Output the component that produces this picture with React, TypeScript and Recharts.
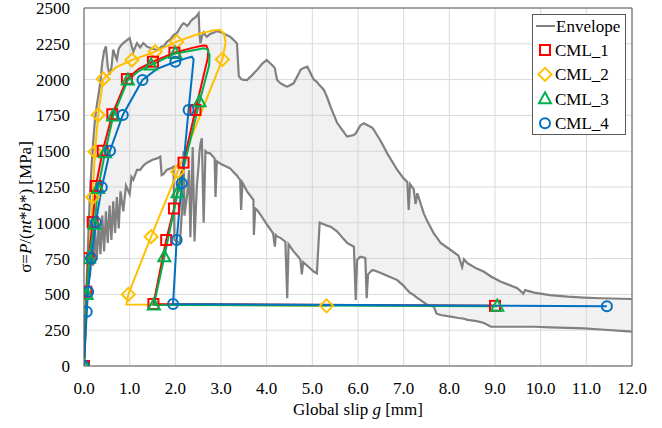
import React from "react";
import {
  ComposedChart,
  XAxis,
  YAxis,
  CartesianGrid,
  Line,
  Area,
  Scatter,
  Legend,
  ReferenceLine,
} from "recharts";

const xTicks = [0, 1, 2, 3, 4, 5, 6, 7, 8, 9, 10, 11, 12];
const yTicks = [0, 250, 500, 750, 1000, 1250, 1500, 1750, 2000, 2250, 2500];

// [slip g (mm), lower envelope (MPa), upper envelope (MPa)]
const envelope: [number, number, number][] = [
  [0, 0, 0], [0.04, 300, 380], [0.08, 620, 780], [0.1, 700, 950], [0.13, 620, 1200],
  [0.17, 860, 1420], [0.2, 700, 1560], [0.24, 950, 1720], [0.28, 740, 1820], [0.32, 1000, 1900],
  [0.36, 780, 1990], [0.4, 1050, 2120], [0.44, 800, 2200], [0.48, 1080, 2232], [0.52, 860, 2090],
  [0.56, 1120, 2035], [0.6, 880, 2080], [0.64, 1150, 2210], [0.68, 930, 2170], [0.72, 1180, 2140],
  [0.76, 960, 2215], [0.8, 1220, 2235], [0.86, 1080, 2255], [0.92, 1260, 2270], [1.0, 1200, 2290],
  [1.04, 1320, 2240], [1.08, 1300, 2195], [1.16, 1369, 2255], [1.23, 1369, 2225], [1.3, 1400, 2255],
  [1.38, 1420, 2230], [1.5, 1440, 2215], [1.6, 1450, 2207], [1.67, 1462, 2222], [1.7, 1333, 2232],
  [1.74, 1340, 2230], [1.81, 1369, 2262], [1.9, 1380, 2285], [1.96, 1392, 2310], [1.98, 880, 2315],
  [2.03, 870, 2323], [2.1, 860, 2360], [2.15, 1100, 2385], [2.18, 1500, 2393], [2.2, 1050, 2390],
  [2.26, 1200, 2375], [2.3, 1369, 2390], [2.33, 900, 2405], [2.38, 1530, 2422], [2.42, 870, 2430],
  [2.47, 1250, 2445], [2.51, 1400, 2463], [2.53, 1500, 2310], [2.55, 1550, 2253], [2.58, 1590, 2300],
  [2.62, 1000, 2330], [2.66, 1500, 2310], [2.69, 1490, 2300], [2.76, 1485, 2318], [2.86, 1450, 2330],
  [2.88, 1180, 2335], [2.91, 1430, 2338], [3.0, 1410, 2332], [3.1, 1395, 2315], [3.2, 1380, 2300],
  [3.3, 1345, 2270], [3.35, 1330, 2253], [3.39, 1310, 2025], [3.42, 1300, 2012], [3.44, 1090, 2005],
  [3.47, 1280, 2000], [3.57, 1220, 1997], [3.71, 1160, 2040], [3.72, 915, 2045], [3.75, 1100, 2055],
  [3.79, 1090, 2067], [3.9, 1040, 2110], [4.0, 990, 2137], [4.14, 927, 2095], [4.18, 833, 2080],
  [4.2, 915, 2040], [4.23, 905, 1997], [4.3, 895, 1975], [4.41, 868, 1955], [4.45, 473, 1951],
  [4.48, 850, 1955], [4.59, 800, 1974], [4.7, 760, 2040], [4.74, 740, 2067], [4.77, 640, 2075],
  [4.8, 725, 2080], [4.89, 700, 2090], [5.03, 660, 2000], [5.1, 647, 1985], [5.16, 1001, 1960],
  [5.25, 990, 1930], [5.32, 980, 1880], [5.4, 973, 1810], [5.54, 940, 1700], [5.65, 900, 1650],
  [5.76, 860, 1602], [5.91, 833, 1613], [5.95, 461, 1625], [5.98, 740, 1640], [6.05, 763, 1680],
  [6.13, 758, 1695], [6.16, 754, 1690], [6.19, 473, 1685], [6.22, 640, 1680], [6.31, 670, 1665],
  [6.35, 668, 1648], [6.5, 650, 1570], [6.64, 630, 1485], [6.86, 600, 1369], [7.0, 560, 1310],
  [7.08, 530, 1285], [7.11, 520, 1089], [7.14, 510, 1270], [7.22, 496, 1235], [7.26, 485, 1130],
  [7.3, 475, 1206], [7.44, 445, 1066], [7.52, 426, 1010], [7.66, 414, 926], [7.72, 365, 900],
  [7.81, 356, 860], [8.03, 345, 810], [8.2, 335, 770], [8.28, 332, 690], [8.32, 330, 745],
  [8.4, 322, 717], [8.6, 313, 680], [8.76, 300, 658], [8.91, 274, 625], [9.13, 274, 589],
  [9.49, 274, 543], [9.62, 274, 505], [9.66, 274, 530], [9.86, 274, 512], [10.2, 270, 495],
  [10.59, 266, 484], [10.95, 263, 478], [11.32, 255, 473], [12.0, 240, 468],
];

// CML_1
const cml1Line: [number, number][] = [
  [0, 0], [0.05, 519], [0.1, 753], [0.19, 1005], [0.26, 1257], [0.41, 1503], [0.62, 1758],
  [0.94, 2004], [1.2, 2075], [1.51, 2125], [1.98, 2188], [2.35, 2220], [2.6, 2238], [2.68, 2236],
  [2.72, 2205], [2.71, 2150], [2.44, 1788], [2.18, 1420], [1.97, 1100], [1.8, 880], [1.52, 433], [9.0, 420],
];
const cml1Marks: [number, number][] = [
  [0, 0], [0.05, 519], [0.1, 753], [0.19, 1005], [0.26, 1257], [0.41, 1503], [0.62, 1758],
  [0.94, 2004], [1.51, 2125], [1.98, 2188], [2.44, 1788], [2.18, 1420], [1.97, 1100], [1.8, 880],
  [1.52, 433], [9.0, 420],
];

// CML_2
const cml2Line: [number, number][] = [
  [0, 0], [0.08, 550], [0.19, 1178], [0.24, 1497], [0.31, 1753], [0.42, 2004], [0.7, 2085],
  [1.05, 2137], [1.56, 2195], [2.03, 2265], [2.5, 2318], [2.85, 2345], [2.98, 2348], [3.07, 2320],
  [3.1, 2260], [3.03, 2141], [2.05, 1357], [1.47, 903], [0.97, 500], [0.93, 430], [5.31, 420],
];
const cml2Marks: [number, number][] = [
  [0, 0], [0.19, 1178], [0.24, 1497], [0.31, 1753], [0.42, 2004], [1.05, 2137], [1.56, 2195],
  [2.03, 2265], [3.03, 2141], [2.05, 1357], [1.47, 903], [0.97, 500], [5.31, 420],
];

// CML_3
const cml3Line: [number, number][] = [
  [0, 0], [0.06, 500], [0.11, 752], [0.23, 990], [0.31, 1240], [0.46, 1489], [0.64, 1746],
  [0.96, 1997], [1.2, 2060], [1.47, 2102], [2.0, 2183], [2.4, 2205], [2.62, 2218], [2.7, 2212],
  [2.75, 2170], [2.74, 2100], [2.53, 1845], [2.05, 1210], [1.76, 763], [1.53, 426], [9.05, 418],
];
const cml3Marks: [number, number][] = [
  [0, 0], [0.06, 500], [0.11, 752], [0.23, 990], [0.31, 1240], [0.46, 1489], [0.64, 1746],
  [0.96, 1997], [1.47, 2102], [2.0, 2183], [2.53, 1845], [2.05, 1210], [1.76, 763], [1.53, 426],
  [9.05, 418],
];

// CML_4
const cml4Line: [number, number][] = [
  [0, 0], [0.06, 379], [0.09, 519], [0.16, 752], [0.26, 1003], [0.39, 1248], [0.57, 1503],
  [0.85, 1753], [1.28, 1997], [1.6, 2075], [2.0, 2125], [2.25, 2150], [2.36, 2160], [2.4, 2140],
  [2.29, 1788], [2.14, 1276], [2.03, 880], [1.95, 433], [11.45, 418],
];
const cml4Marks: [number, number][] = [
  [0, 0], [0.06, 379], [0.09, 519], [0.16, 752], [0.26, 1003], [0.39, 1248], [0.57, 1503],
  [0.85, 1753], [1.28, 1997], [2.0, 2125], [2.29, 1788], [2.14, 1276], [2.03, 880], [1.95, 433],
  [11.45, 418],
];

const FONT = "Liberation Serif, Times New Roman, DejaVu Serif, serif";
const FS = 17;
const C_ENV = "#808080";
const C1 = "#ff0000";
const C2 = "#ffc000";
const C3 = "#00b050";
const C4 = "#0070c0";
const TXT = { fontFamily: FONT, fontSize: FS };

const toXY = (arr: [number, number][]) => arr.map(([x, y]) => ({ x, y }));
const envRows = envelope.map(([x, lo, hi]) => ({ x, lo, hi, r: [lo, hi] }));

type MP = { cx: number; cy: number; color: string };
const SquareM = ({ cx, cy, color }: MP) => (
  <rect x={cx - 5} y={cy - 5} width={10} height={10} fill="none" stroke={color} strokeWidth={2} />
);
const DiamondM = ({ cx, cy, color }: MP) => (
  <polygon
    points={`${cx},${cy - 6.5} ${cx + 6.5},${cy} ${cx},${cy + 6.5} ${cx - 6.5},${cy}`}
    fill="none"
    stroke={color}
    strokeWidth={2}
  />
);
const TriangleM = ({ cx, cy, color }: MP) => (
  <polygon
    points={`${cx},${cy - 6.5} ${cx + 6},${cy + 4.5} ${cx - 6},${cy + 4.5}`}
    fill="none"
    stroke={color}
    strokeWidth={2}
  />
);
const CircleM = ({ cx, cy, color }: MP) => (
  <circle cx={cx} cy={cy} r={5} fill="none" stroke={color} strokeWidth={2} />
);

const LegendBox = () => {
  const rows = [
    { name: "CML_1", M: SquareM, c: C1 },
    { name: "CML_2", M: DiamondM, c: C2 },
    { name: "CML_3", M: TriangleM, c: C3 },
    { name: "CML_4", M: CircleM, c: C4 },
  ];
  return (
    <svg width={95} height={122} style={{ display: "block" }}>
      <rect x={0.5} y={0.5} width={93} height={120} fill="#fff" stroke="#595959" strokeWidth={1} />
      <line x1={4} x2={23} y1={12} y2={12} stroke={C_ENV} strokeWidth={2} />
      <text x={24} y={12} dy="0.35em" style={TXT} fill="#000">
        Envelope
      </text>
      {rows.map((r, i) => {
        const cy = 36 + i * 24.4;
        const M = r.M;
        return (
          <g key={r.name}>
            <M cx={13} cy={cy} color={r.c} />
            <text x={23} y={cy} dy="0.35em" style={TXT} fill="#000">
              {r.name}
            </text>
          </g>
        );
      })}
    </svg>
  );
};

const XTitle = () => (
  <text x={358} y={415} textAnchor="middle" style={TXT} fill="#000">
    Global slip <tspan fontStyle="italic">g</tspan> [mm]
  </text>
);

const YTitle = () => (
  <text x={31} y={207} transform="rotate(-90, 31, 207)" textAnchor="middle" style={TXT} fill="#000">
    σ=<tspan fontStyle="italic">P</tspan>/(<tspan fontStyle="italic">nt</tspan>*
    <tspan fontStyle="italic">b</tspan>*) [MPa]
  </text>
);

export default function App() {
  const tick = { fontSize: FS, fill: "#000", fontFamily: FONT, style: TXT };
  return (
    <div
      style={{
        position: "absolute",
        left: 0,
        top: 0,
        width: 662,
        height: 428,
        background: "#fff",
        fontFamily: FONT,
      }}
    >
      <ComposedChart width={662} height={428} margin={{ top: 8, right: 30, bottom: 0, left: 0 }}>
        <CartesianGrid stroke="#d9d9d9" strokeWidth={1} />
        <XAxis
          type="number"
          dataKey="x"
          domain={[0, 12]}
          ticks={xTicks}
          allowDataOverflow
          tickFormatter={(v: number) => v.toFixed(1)}
          tickLine={false}
          tickSize={0}
          tickMargin={16}
          height={62}
          axisLine={{ stroke: "#595959", strokeWidth: 1 }}
          tick={tick}
          interval={0}
          label={{ content: () => <XTitle /> }}
        />
        <YAxis
          type="number"
          domain={[0, 2500]}
          ticks={yTicks}
          allowDataOverflow
          tickLine={false}
          tickSize={0}
          tickMargin={14}
          width={84}
          axisLine={{ stroke: "#595959", strokeWidth: 1 }}
          tick={tick}
          interval={0}
          label={{ content: () => <YTitle /> }}
        />
        <ReferenceLine y={2500} stroke="#595959" strokeWidth={1} ifOverflow="extendDomain" />
        <ReferenceLine x={12} stroke="#595959" strokeWidth={1} ifOverflow="extendDomain" />
        <Area
          data={envRows}
          dataKey="r"
          type="linear"
          stroke="none"
          fill="#c8c8c8"
          fillOpacity={0.25}
          isAnimationActive={false}
          activeDot={false}
        />
        <Line data={envRows} dataKey="hi" type="linear" stroke={C_ENV} strokeWidth={2.2} dot={false} activeDot={false} isAnimationActive={false} />
        <Line data={envRows} dataKey="lo" type="linear" stroke={C_ENV} strokeWidth={2.2} dot={false} activeDot={false} isAnimationActive={false} />
        <Line data={toXY(cml2Line)} dataKey="y" type="linear" stroke={C2} strokeWidth={2} dot={false} activeDot={false} isAnimationActive={false} />
        <Line data={toXY(cml1Line)} dataKey="y" type="linear" stroke={C1} strokeWidth={2} dot={false} activeDot={false} isAnimationActive={false} />
        <Line data={toXY(cml3Line)} dataKey="y" type="linear" stroke={C3} strokeWidth={2} dot={false} activeDot={false} isAnimationActive={false} />
        <Line data={toXY(cml4Line)} dataKey="y" type="linear" stroke={C4} strokeWidth={2} dot={false} activeDot={false} isAnimationActive={false} />
        <Scatter data={toXY(cml2Marks)} dataKey="y" isAnimationActive={false} shape={(p: any) => <DiamondM cx={p.cx} cy={p.cy} color={C2} />} />
        <Scatter data={toXY(cml1Marks)} dataKey="y" isAnimationActive={false} shape={(p: any) => <SquareM cx={p.cx} cy={p.cy} color={C1} />} />
        <Scatter data={toXY(cml3Marks)} dataKey="y" isAnimationActive={false} shape={(p: any) => <TriangleM cx={p.cx} cy={p.cy} color={C3} />} />
        <Scatter data={toXY(cml4Marks)} dataKey="y" isAnimationActive={false} shape={(p: any) => <CircleM cx={p.cx} cy={p.cy} color={C4} />} />
        <Legend
          layout="vertical"
          align="center"
          verticalAlign="middle"
          content={() => <LegendBox />}
          wrapperStyle={{ position: "absolute", left: 532, top: 14, width: 95, height: 122 }}
        />
      </ComposedChart>
    </div>
  );
}
